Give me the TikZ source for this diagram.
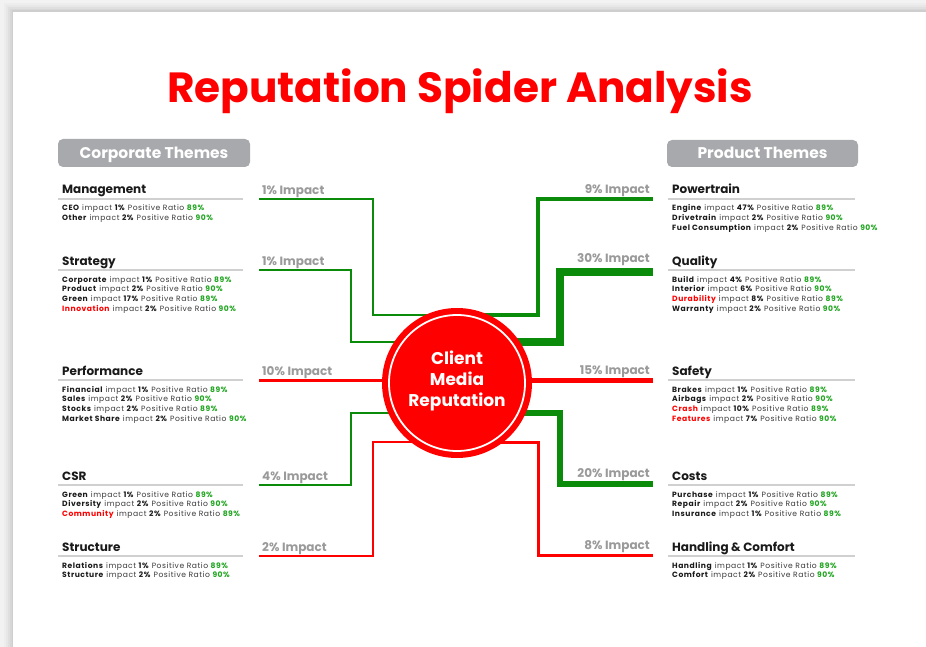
\documentclass[tikz,border=0pt]{standalone}
\usepackage{fontspec}
\setmainfont{Poppins}
\newfontfamily\itemfont{Poppins}[LetterSpace=7]
\usetikzlibrary{calc}
\definecolor{myred}{HTML}{FF0000}
\definecolor{mygreen}{HTML}{0A8C0A}
\definecolor{txtgreen}{HTML}{1FA51F}
\definecolor{boxgray}{HTML}{A7A9AC}
\definecolor{linegray}{HTML}{D0D0D0}
\definecolor{impgray}{HTML}{9A9A9A}
\definecolor{darktxt}{HTML}{1A1A1A}
\definecolor{midtxt}{HTML}{3A3A3A}
\newcommand\itm[3]{\textcolor{darktxt}{\textbf{#1}} impact \textcolor{darktxt}{\textbf{#2\%}} Positive Ratio \textcolor{txtgreen}{\textbf{#3\%}}}
\newcommand\itr[3]{\textcolor{myred}{\textbf{#1}} impact \textcolor{darktxt}{\textbf{#2\%}} Positive Ratio \textcolor{txtgreen}{\textbf{#3\%}}}
\pgfdeclarelayer{back}
\pgfdeclarelayer{lines}
\pgfsetlayers{back,lines,main}
\tikzset{
  heading/.style={font=\fontsize{12}{15}\selectfont\bfseries, text=darktxt, anchor=base west, inner sep=0},
  itemtxt/.style={font=\itemfont\fontsize{7.6}{9}\selectfont, text=midtxt, anchor=base west, inner sep=0},
  impl/.style={font=\fontsize{12}{14}\selectfont\bfseries, text=impgray, inner sep=0, anchor=base west},
  impr/.style={font=\fontsize{12}{14}\selectfont\bfseries, text=impgray, inner sep=0, anchor=base east},
  uline/.style={draw=linegray, line width=1.6},
  gline/.style={draw=mygreen, line join=miter, line cap=butt},
  rline/.style={draw=myred, line join=miter, line cap=butt},
  themebox/.style={fill=boxgray, rounded corners=5, inner sep=0, text=white, text height=11, text depth=0, font=\fontsize{15.5}{17}\selectfont\bfseries}
}
% #1 id, #2 text x, #3 underline x1, #4 underline x2, #5 underline y, #6 heading, #7 items
\newcommand\themeblock[7]{%
  \node[heading] (#1-h) at (#2,#5-5) {#6};
  \draw[uline] (#3,#5) -- (#4,#5);
  \foreach \t [count=\k] in {#7} {
    \node[itemtxt] (#1-\k) at (#2,#5+12+\k*9.7-9.7) {\t};
  }
}
\begin{document}
\begin{tikzpicture}[x=1pt,y=-1pt]
\useasboundingbox (0,0) rectangle (926,647);
\begin{pgfonlayer}{back}
  \fill[black!5] (0,0) rectangle (926,647);
  \foreach \d/\o in {9/0.02,7/0.025,5/0.03,3/0.035,1.5/0.04}
    \fill[black,opacity=\o] (13-\d,12-\d) rectangle (950,670);
  \fill[white] (13,12) rectangle (950,670);
\end{pgfonlayer}

% title
\node[font=\fontsize{42.2}{46}\selectfont\bfseries, text=myred, anchor=base, inner sep=0] (title) at (460,103) {Reputation Spider Analysis};

% theme boxes
\node[themebox, minimum width=192, minimum height=28] (corp) at (154,153) {Corporate Themes};
\node[themebox, minimum width=191, minimum height=27] (prod) at (762.5,153.5) {Product Themes};

% left blocks
\themeblock{mg}{62}{58}{243}{199}{Management}{\itm{CEO}{1}{89},\itm{Other}{2}{90}}
\themeblock{st}{62}{58}{243}{270}{Strategy}{\itm{Corporate}{1}{89},\itm{Product}{2}{90},\itm{Green}{17}{89},\itr{Innovation}{2}{90}}
\themeblock{pf}{62}{58}{243}{380}{Performance}{\itm{Financial}{1}{89},\itm{Sales}{2}{90},\itm{Stocks}{2}{89},\itm{Market Share}{2}{90}}
\themeblock{cs}{62}{58}{243}{485}{CSR}{\itm{Green}{1}{89},\itm{Diversity}{2}{90},\itr{Community}{2}{89}}
\themeblock{su}{62}{58}{243}{556}{Structure}{\itm{Relations}{1}{89},\itm{Structure}{2}{90}}

% right blocks
\themeblock{pt}{672}{668}{855}{199}{Powertrain}{\itm{Engine}{47}{89},\itm{Drivetrain}{2}{90},\itm{Fuel Consumption}{2}{90}}
\themeblock{qu}{672}{668}{855}{270}{Quality}{\itm{Build}{4}{89},\itm{Interior}{6}{90},\itr{Durability}{8}{89},\itm{Warranty}{2}{90}}
\themeblock{sa}{672}{668}{855}{380}{Safety}{\itm{Brakes}{1}{89},\itm{Airbags}{2}{90},\itr{Crash}{10}{89},\itr{Features}{7}{90}}
\themeblock{co}{672}{668}{855}{485}{Costs}{\itm{Purchase}{1}{89},\itm{Repair}{2}{90},\itm{Insurance}{1}{89}}
\themeblock{hc}{672}{668}{855}{556}{Handling \& Comfort}{\itm{Handling}{1}{89},\itm{Comfort}{2}{90}}

% impact labels
\node[impl] (mg-i) at (262,194.5) {1\% Impact};
\node[impl] (st-i) at (262,265.5) {1\% Impact};
\node[impl] (pf-i) at (262,375) {10\% Impact};
\node[impl] (cs-i) at (262,480) {4\% Impact};
\node[impl] (su-i) at (262,551.5) {2\% Impact};
\node[impr] (pt-i) at (650,194) {9\% Impact};
\node[impr] (qu-i) at (650,262) {30\% Impact};
\node[impr] (sa-i) at (650,374) {15\% Impact};
\node[impr] (co-i) at (650,477) {20\% Impact};
\node[impr] (hc-i) at (650,549) {8\% Impact};

% center
\node[circle, fill=myred, minimum size=150, inner sep=0] (c) at (457,383) {};
\draw[white, line width=1.8] (c.center) circle[radius=68];
\node[font=\fontsize{17}{21}\selectfont\bfseries, text=white, align=center, inner sep=0] (ctxt) at (457,381) {Client\\Media\\Reputation};

% connector end points
\coordinate (mgL) at (259,199);
\coordinate (stL) at (259,270);
\coordinate (pfL) at (259,380);
\coordinate (csL) at (259,485);
\coordinate (suL) at (259,556);
\coordinate (ptR) at (653,199);
\coordinate (quR) at (653,272);
\coordinate (saR) at (653,380);
\coordinate (coR) at (653,484);
\coordinate (hcR) at (653,555);

\begin{pgfonlayer}{lines}
  \draw[gline, line width=1.5] (mgL) -| (373,315) -- (c |- 0,315);
  \draw[gline, line width=1.5] (stL) -| (351,342) -- (c |- 0,342);
  \draw[rline, line width=3] (pfL) -- (c |- pfL);
  \draw[gline, line width=2] (csL) -| (351,413) -- (c |- 0,413);
  \draw[rline, line width=1.5] (suL) -| (373,442) -- (c |- 0,442);
  \draw[gline, line width=3.5] (ptR) -| (538,315) -- (c |- 0,315);
  \draw[gline, line width=8] (quR) -| (560,342) -- (c |- 0,342);
  \draw[rline, line width=5] (saR) -- (c |- saR);
  \draw[gline, line width=6] (coR) -| (560,413) -- (c |- 0,413);
  \draw[rline, line width=3] (hcR) -| (538,442) -- (c |- 0,442);
\end{pgfonlayer}
\end{tikzpicture}
\end{document}
